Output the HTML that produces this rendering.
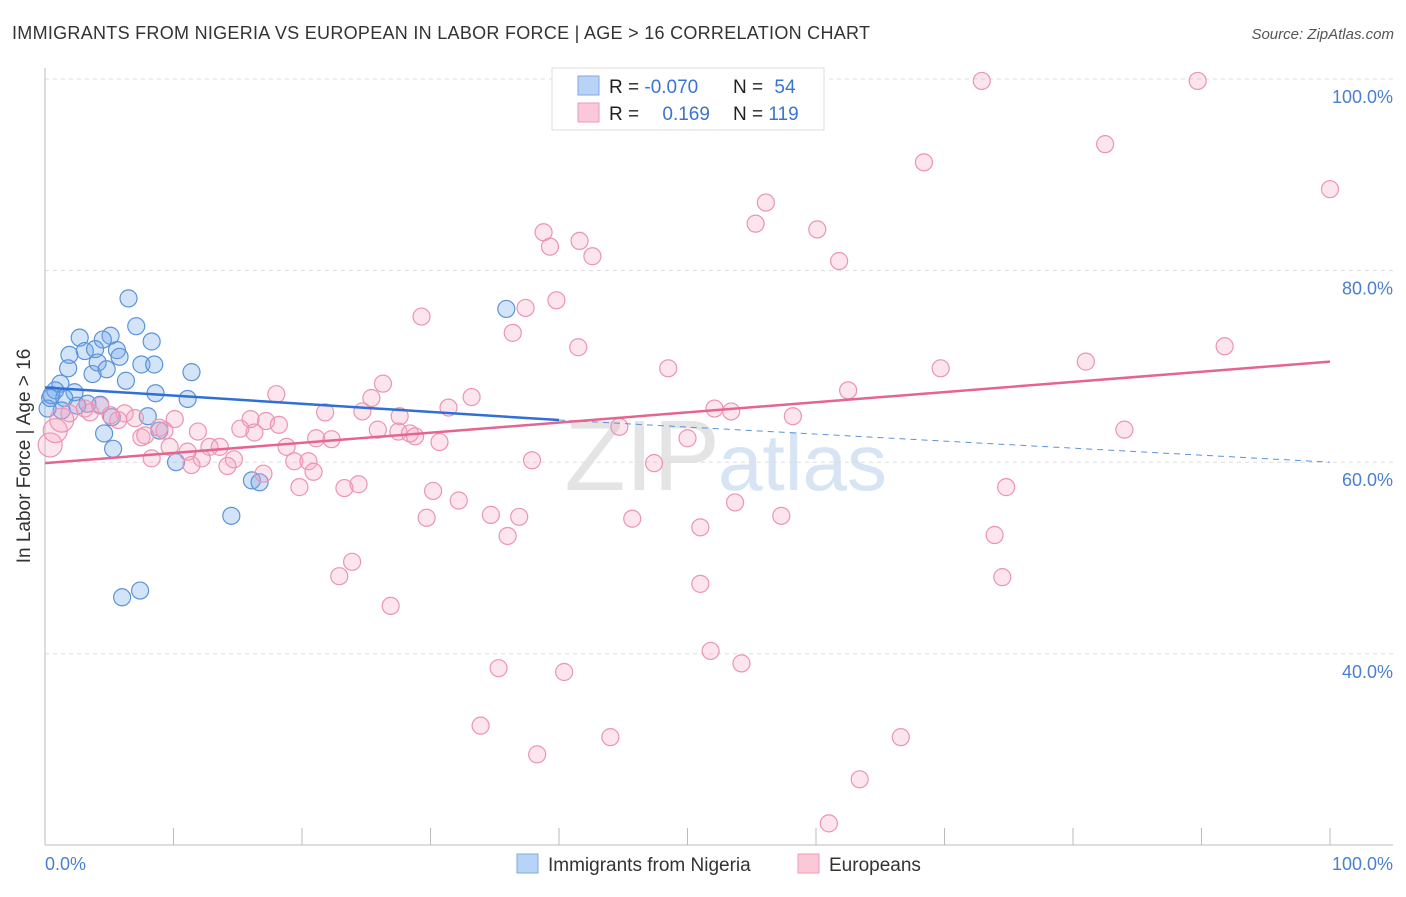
<!DOCTYPE html>
<html><head><meta charset="utf-8"><style>
body{margin:0;background:#fff;font-family:"Liberation Sans",sans-serif}
svg text{font-family:"Liberation Sans",sans-serif}
</style></head><body>
<svg id="chart" width="1406" height="892" xmlns="http://www.w3.org/2000/svg">
<text x="12" y="39" font-size="18" fill="#333" textLength="858">IMMIGRANTS FROM NIGERIA VS EUROPEAN IN LABOR FORCE | AGE &gt; 16 CORRELATION CHART</text>
<text x="1394" y="39" font-size="15" fill="#555" font-style="italic" text-anchor="end">Source: ZipAtlas.com</text>
<text x="720" y="490" font-size="100" fill="#e4e4e4" text-anchor="end" font-family="Liberation Serif">ZIP</text>
<text x="718" y="490" font-size="80" fill="#d6e4f3">atlas</text>
<g id="grid"></g>
<g id="axes"></g>
<g id="pts"></g>
<g id="lines"></g>
<text x="30" y="456" font-size="19" fill="#333" text-anchor="middle" transform="rotate(-90 30 456)">In Labor Force | Age &gt; 16</text>
<text x="45" y="870" font-size="18" fill="#4a7fd0">0.0%</text>
<text x="1393" y="870" font-size="18" fill="#4a7fd0" text-anchor="end">100.0%</text>
<g>
<rect x="552" y="68" width="272" height="62" fill="#fff" stroke="#ddd"/>
<rect x="578" y="76" width="21" height="19" fill="#b8d3f5" stroke="#7fa9e4"/>
<rect x="578" y="103" width="21" height="19" fill="#fbc8d8" stroke="#ef9ab6"/>
<text x="609" y="93" font-size="19" fill="#222">R = <tspan fill="#3b74d0">-0.070</tspan></text>
<text x="733" y="93" font-size="19" fill="#222">N = <tspan fill="#3b74d0" dx="6">54</tspan></text>
<text x="609" y="120" font-size="19" fill="#222">R = <tspan fill="#3b74d0" dx="18">0.169</tspan></text>
<text x="733" y="120" font-size="19" fill="#222">N = <tspan fill="#3b74d0">119</tspan></text>
</g>
<g>
<rect x="517" y="854" width="21" height="19" fill="#b8d3f5" stroke="#7fa9e4"/>
<text x="548" y="871" font-size="19" fill="#333">Immigrants from Nigeria</text>
<rect x="798" y="854" width="21" height="19" fill="#fbc8d8" stroke="#ef9ab6"/>
<text x="829" y="871" font-size="19" fill="#333">Europeans</text>
</g>
</svg>
<script>
const yTicks=[40,60,80,100];
const xTicks=[10,20,30,40,50,60,70,80,90,100];
const blueX=[6.5,2.7,5.1,7.1,4.5,1.9,3.1,3.9,5.6,8.3,5.8,1.8,3.7,4.1,4.8,6.3,7.5,8.5,11.4,1.2,0.8,2.3,0.4,1.5,3.3,2.5,8.6,11.1,1.3,4.3,5.2,8.0,8.9,4.6,5.3,10.2,14.5,16.1,16.7,35.9,6.0,7.4,0.5,0.2];
const blueY=[77.1,73.0,73.2,74.2,72.8,71.2,71.6,71.8,71.7,72.6,71.0,69.8,69.2,70.4,69.7,68.5,70.2,70.2,69.4,68.2,67.5,67.3,66.7,66.7,66.1,65.9,67.2,66.6,65.4,66.0,64.7,64.8,63.3,63.0,61.4,60.0,54.4,58.1,57.9,76.0,45.9,46.6,67.0,65.6];
const pinkX=[49.4,72.9,89.7,82.5,68.4,100,56.1,55.3,38.8,39.3,41.6,42.6,60.1,61.8,39.8,37.4,29.3,36.4,41.5,91.8,81.0,48.5,69.7,26.3,18.0,25.4,33.2,62.5,52.1,53.4,31.4,21.8,24.7,27.6,58.2,44.7,84.0,16.0,17.2,18.2,15.2,25.9,27.5,28.4,28.8,30.7,50.0,21.1,22.3,16.3,18.8,12.8,11.9,13.6,14.7,11.1,9.7,7.5,8.3,11.4,12.2,14.2,19.4,20.5,20.9,17.0,37.9,47.4,19.8,23.3,24.4,30.2,32.2,74.8,34.7,36.9,29.7,45.7,53.7,57.3,36.0,51.0,73.9,23.9,22.9,74.5,51.0,26.9,51.8,54.2,35.3,40.4,33.9,44.0,66.6,38.3,63.4,61.0,0.4,0.8,1.3,1.9,3.1,4.3,3.5,5.1,6.2,7.0,5.7,8.9,10.1,9.3,7.8];
const pinkY=[99.8,99.8,99.8,93.2,91.3,88.5,87.1,84.9,84.0,82.5,83.1,81.5,84.3,81.0,76.9,76.1,75.2,73.5,72.0,72.1,70.5,69.8,69.8,68.2,67.1,66.7,66.8,67.5,65.6,65.3,65.7,65.2,65.3,64.8,64.8,63.7,63.4,64.5,64.3,63.9,63.5,63.4,63.2,63.0,62.7,62.1,62.5,62.5,62.4,63.1,61.6,61.6,63.2,61.6,60.3,61.1,61.6,62.6,60.4,59.7,60.4,59.6,60.1,60.1,59.0,58.8,60.2,59.9,57.4,57.3,57.7,57.0,56.0,57.4,54.5,54.3,54.2,54.1,55.8,54.4,52.3,53.2,52.4,49.6,48.1,48.0,47.3,45.0,40.3,39.0,38.5,38.1,32.5,31.3,31.3,29.5,26.9,22.3,61.8,63.3,64.4,65.1,65.6,65.9,65.2,64.9,65.1,64.6,64.4,63.6,64.5,63.3,62.8];
const blueTrend=[67.8,64.4,60.0]; // at x=0, 40, 100
const pinkTrend=[59.9,70.5]; // at x=0, 100
const sx=v=>45+v*12.85, sy=v=>79+(100-v)*9.58;
const NS='http://www.w3.org/2000/svg';
function mk(tag,attrs,parent){const e=document.createElementNS(NS,tag);for(const k in attrs)e.setAttribute(k,attrs[k]);parent.appendChild(e);return e;}
const grid=document.getElementById('grid'),axes=document.getElementById('axes'),pts=document.getElementById('pts'),lines=document.getElementById('lines');
yTicks.forEach(t=>{
 const l=mk('line',{x1:45,x2:1393,y1:sy(t),y2:sy(t),stroke:'#ddd','stroke-dasharray':'4,4'},grid);
 
 
 const tx=mk('text',{x:1393,y:sy(t)+24,'font-size':18,fill:'#4a7fd0','text-anchor':'end'},grid);
 tx.textContent=t.toFixed(1)+'%';
 
 
});
const ya=mk('line',{x1:45,x2:45,y1:68,y2:845,stroke:'#bbb'},axes);


const xa=mk('line',{x1:45,x2:1393,y1:845,y2:845,stroke:'#bbb'},axes);


xTicks.forEach(t=>{
 const l=mk('line',{x1:sx(t),x2:sx(t),y1:828,y2:845,stroke:'#bbb'},axes);
 
 
});
blueX.forEach((x,i)=>{
 const c=mk('circle',{cx:sx(x),cy:sy(blueY[i]),r:8.5,fill:'rgba(110,165,235,0.3)',stroke:'#5b93db','stroke-width':1.2},pts);
 
 
});
pinkX.forEach((x,i)=>{
 const r=(x<1.5)?12:8.5;
 const c=mk('circle',{cx:sx(x),cy:sy(pinkY[i]),r:r,fill:'rgba(245,160,190,0.28)',stroke:'#ec94b2','stroke-width':1.2},pts);
 
 
});
const b1=mk('line',{x1:sx(0),y1:sy(blueTrend[0]),x2:sx(40),y2:sy(blueTrend[1]),stroke:'#2f6fd6','stroke-width':2.5},lines);


const b2=mk('line',{x1:sx(40),y1:sy(blueTrend[1]),x2:sx(100),y2:sy(blueTrend[2]),stroke:'#5b93db','stroke-width':1,'stroke-dasharray':'6,5'},lines);


const p1=mk('line',{x1:sx(0),y1:sy(pinkTrend[0]),x2:sx(100),y2:sy(pinkTrend[1]),stroke:'#e5658f','stroke-width':2.5},lines);


</script>
</body></html>
